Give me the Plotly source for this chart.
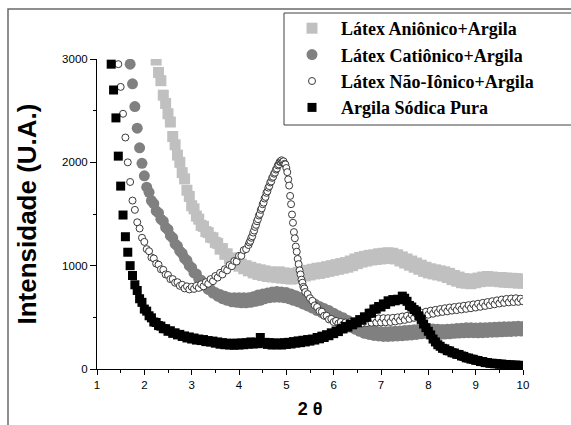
import numpy as np
import plotly.graph_objects as go

# ---------------- data ----------------
TWO_THETA_STEP = 0.05

# Argila Sódica Pura (black squares), 2θ from 1.30 to 10.00
argila_x0 = 1.30
argila_y = [2950, 2700, 2430, 2060, 1770, 1490, 1280, 1130, 1000, 905,
            815, 760, 680, 645, 580, 560, 515, 495, 455, 450,
            420, 415, 390, 390, 365, 370, 345, 350, 330, 335,
            315, 320, 300, 310, 290, 300, 280, 290, 275, 285,
            265, 275, 260, 270, 250, 262, 240, 255, 235, 250,
            232, 248, 230, 250, 232, 252, 235, 255, 240, 262,
            242, 258, 245, 305, 250, 258, 238, 255, 232, 252,
            235, 250, 232, 255, 238, 258, 242, 265, 250, 272,
            255, 278, 262, 285, 270, 290, 280, 305, 292, 318,
            305, 332, 322, 350, 342, 368, 362, 390, 388, 412,
            405, 432, 428, 455, 448, 478, 472, 505, 500, 540,
            540, 580, 580, 605, 600, 630, 625, 660, 650, 672,
            660, 675, 670, 705, 685, 655, 615, 600, 575, 560,
            515, 480, 435, 400, 365, 330, 290, 262, 235, 220,
            200, 195, 178, 175, 158, 155, 142, 140, 126, 122,
            108, 106, 96, 94, 84, 82, 72, 72, 62, 62,
            55, 56, 50, 52, 46, 48, 42, 44, 38, 40,
            36, 38, 33, 36, 32]

# Látex Aniônico+Argila (light grey squares), 2θ from 2.20 to 10.00
anionico_x0 = 2.20
anionico_y = [3080, 2990, 2870, 2790, 2650, 2570, 2470, 2390, 2250, 2170,
              2070, 2000, 1900, 1840, 1730, 1670, 1580, 1550, 1480, 1450,
              1390, 1380, 1330, 1320, 1275, 1270, 1225, 1215, 1160, 1165,
              1110, 1115, 1065, 1075, 1025, 1045, 995, 1015, 970, 1000,
              950, 985, 930, 970, 915, 960, 905, 950, 895, 940,
              890, 935, 885, 940, 880, 930, 875, 925, 870, 920,
              875, 935, 890, 945, 900, 955, 910, 965, 920, 975,
              925, 980, 935, 990, 945, 1000, 955, 1010, 965, 1020,
              975, 1030, 985, 1045, 1000, 1065, 1020, 1080, 1035, 1090,
              1045, 1100, 1055, 1105, 1060, 1115, 1065, 1120, 1070, 1125,
              1075, 1120, 1065, 1105, 1045, 1085, 1025, 1065, 1005, 1045,
              985, 1025, 965, 1005, 945, 985, 930, 970, 920, 960,
              910, 950, 900, 940, 885, 925, 865, 905, 850, 890,
              835, 875, 830, 870, 825, 870, 835, 880, 845, 890,
              850, 895, 855, 890, 850, 885, 845, 885, 840, 880,
              838, 878, 835, 875, 832, 872, 830]

# Látex Catiônico+Argila (dark grey circles), 2θ from 1.65 to 10.00
cationico_x0 = 1.65
cationico_y = [3080, 2950, 2760, 2540, 2330, 2140, 1990, 1870, 1760, 1710,
               1630, 1600, 1530, 1510, 1450, 1430, 1370, 1350, 1290, 1270,
               1210, 1190, 1140, 1120, 1070, 1050, 1000, 980, 930, 920,
               870, 860, 810, 810, 770, 770, 735, 740, 705, 720,
               680, 705, 665, 690, 650, 690, 645, 690, 640, 690,
               640, 690, 645, 700, 655, 715, 665, 725, 680, 735,
               690, 745, 695, 750, 695, 745, 690, 740, 680, 725,
               665, 710, 650, 690, 630, 670, 610, 650, 590, 630,
               565, 605, 545, 585, 525, 565, 500, 540, 475, 515,
               455, 495, 430, 470, 405, 445, 385, 420, 365, 400,
               345, 385, 335, 375, 325, 365, 320, 360, 315, 360,
               315, 362, 318, 365, 320, 368, 322, 372, 326, 376,
               330, 380, 335, 385, 340, 390, 345, 392, 345, 388,
               340, 385, 335, 382, 338, 385, 340, 388, 345, 392,
               348, 395, 350, 398, 352, 398, 352, 396, 350, 398,
               352, 400, 354, 402, 356, 404, 358, 406, 360, 408,
               362, 410, 364, 412, 366, 414, 368, 412]

# Látex Não-Iônico+Argila (open circles), three scan segments
naoionico_a_x0 = 1.40   # step 0.05
naoionico_a_y = [3110, 2950, 2730, 2470, 2240, 2000, 1810, 1630, 1540, 1420,
                 1360, 1270, 1230, 1160, 1140, 1080, 1070, 1020, 1010, 965,
                 960, 915, 910, 870, 870, 835, 840, 805, 815, 780,
                 800, 770, 795, 775, 805, 785, 820, 800, 840, 825,
                 870, 850, 900, 885, 930, 915, 965, 955, 1005, 995,
                 1045, 1040, 1095, 1095, 1150, 1160]
naoionico_p_x0 = 4.20   # step 0.02 around the basal peak
naoionico_p_step = 0.02
naoionico_p_y = [1200, 1225, 1240, 1270, 1285, 1320, 1340, 1375, 1395, 1430,
                 1450, 1485, 1500, 1540, 1555, 1595, 1610, 1650, 1665, 1705,
                 1720, 1755, 1770, 1805, 1815, 1850, 1860, 1890, 1900, 1930,
                 1940, 1970, 1980, 2005, 2005, 2020, 2005, 2010, 1985, 1980,
                 1945, 1905, 1835, 1775, 1675, 1595, 1495, 1415, 1325, 1265,
                 1185, 1135, 1065, 1015, 955, 915, 865, 835, 795, 780,
                 745]
naoionico_b_x0 = 5.45   # step 0.05
naoionico_b_y = [725, 685, 660, 615, 600, 560, 555, 515, 515, 480,
                 485, 455, 465, 440, 455, 430, 450, 425, 452, 430,
                 460, 435, 470, 440, 478, 445, 485, 448, 488, 450,
                 490, 450, 492, 452, 492, 455, 495, 460, 500, 468,
                 508, 475, 515, 485, 525, 495, 535, 505, 545, 515,
                 555, 525, 565, 535, 572, 545, 580, 552, 588, 558,
                 595, 565, 600, 570, 606, 576, 612, 582, 618, 588,
                 625, 595, 632, 602, 640, 610, 648, 618, 656, 626,
                 664, 634, 672, 640, 678, 645, 682, 648, 685, 650,
                 680, 655]

series_names = ["<b>Látex Aniônico+Argila</b>", "<b>Látex Catiônico+Argila</b>",
                "<b>Látex Não-Iônico+Argila</b>", "<b>Argila Sódica Pura</b>"]
x_ticks = [1, 2, 3, 4, 5, 6, 7, 8, 9, 10]
y_ticks = [0, 1000, 2000, 3000]


def scan(x0, n, step=TWO_THETA_STEP):
    return np.round(x0 + step * np.arange(n), 2)


arg_x = scan(argila_x0, len(argila_y))
ani_x = scan(anionico_x0, len(anionico_y))
cat_x = scan(cationico_x0, len(cationico_y))
nao_x = np.concatenate([scan(naoionico_a_x0, len(naoionico_a_y)),
                        scan(naoionico_p_x0, len(naoionico_p_y), naoionico_p_step),
                        scan(naoionico_b_x0, len(naoionico_b_y))])
nao_y = naoionico_a_y + naoionico_p_y + naoionico_b_y

fig = go.Figure()
fig.add_trace(go.Scatter(x=ani_x, y=anionico_y, mode="markers", name=series_names[0],
                         marker=dict(symbol="square", size=11, color="#c0c0c0",
                                     line=dict(width=0)), legendrank=1))
fig.add_trace(go.Scatter(x=cat_x, y=cationico_y, mode="markers", name=series_names[1],
                         marker=dict(symbol="circle", size=11, color="#808080",
                                     line=dict(width=0)), legendrank=2))
fig.add_trace(go.Scatter(x=nao_x, y=nao_y, mode="markers", name=series_names[2],
                         marker=dict(symbol="circle", size=7, color="white",
                                     line=dict(width=1, color="#3a3a3a")), legendrank=3))
fig.add_trace(go.Scatter(x=arg_x, y=argila_y, mode="markers", name=series_names[3],
                         marker=dict(symbol="square", size=9, color="black",
                                     line=dict(width=0)), legendrank=4))

L, R, T, B = 97, 48, 59, 56
W, H = 571, 425
pw, ph = W - L - R, H - T - B


def px2paper(px, py):
    return (px - L) / pw, (H - B - py) / ph


# outer frame of the original figure (top and left edges visible)
fx0, fy0 = px2paper(8, 9)
fx1, fy1 = px2paper(590, 440)
fig.add_shape(type="rect", xref="paper", yref="paper", x0=fx0, y0=fy1, x1=fx1, y1=fy0,
              line=dict(color="#6a6a6a", width=1.5), fillcolor="rgba(0,0,0,0)", layer="above")
# legend box
lx0, ly0 = px2paper(284, 13)
lx1, ly1 = px2paper(590, 125)
fig.add_shape(type="rect", xref="paper", yref="paper", x0=lx0, y0=ly1, x1=lx1, y1=ly0,
              line=dict(color="#404040", width=1), fillcolor="white", layer="above")

legx, legy = px2paper(283, 10)

axis_font = dict(family="Liberation Sans", size=11.5, color="black")
fig.update_layout(
    width=W, height=H,
    margin=dict(l=L, r=R, t=T, b=B, autoexpand=False),
    paper_bgcolor="white", plot_bgcolor="white",
    showlegend=True,
    legend=dict(x=legx, y=legy, xanchor="left", yanchor="top",
                bgcolor="rgba(0,0,0,0)", borderwidth=0, itemwidth=48,
                font=dict(family="Liberation Serif", size=18, color="black"),
                itemsizing="trace"),
    xaxis=dict(range=[1, 10], tickvals=x_ticks, ticks="outside", ticklen=5,
               tickcolor="black", tickwidth=1, showline=True, linecolor="black",
               linewidth=1, showgrid=False, zeroline=False, tickfont=axis_font,
               minor=dict(dtick=0.5, ticks="outside", ticklen=3, tickcolor="black"),
               title=dict(text="<b>2 θ</b>", standoff=12,
                          font=dict(family="Liberation Sans", size=18, color="black"))),
    yaxis=dict(range=[0, 3000], tickvals=y_ticks, ticks="outside", ticklen=6,
               tickcolor="black", tickwidth=1, showline=True, linecolor="black",
               linewidth=1, showgrid=False, zeroline=False, tickfont=axis_font,
               minor=dict(dtick=500, ticks="outside", ticklen=3, tickcolor="black"),
               title=dict(text="<b>Intensidade (U.A.)</b>", standoff=18,
                          font=dict(family="Liberation Sans", size=26, color="black"))),
)

fig.write_html("out.html")
